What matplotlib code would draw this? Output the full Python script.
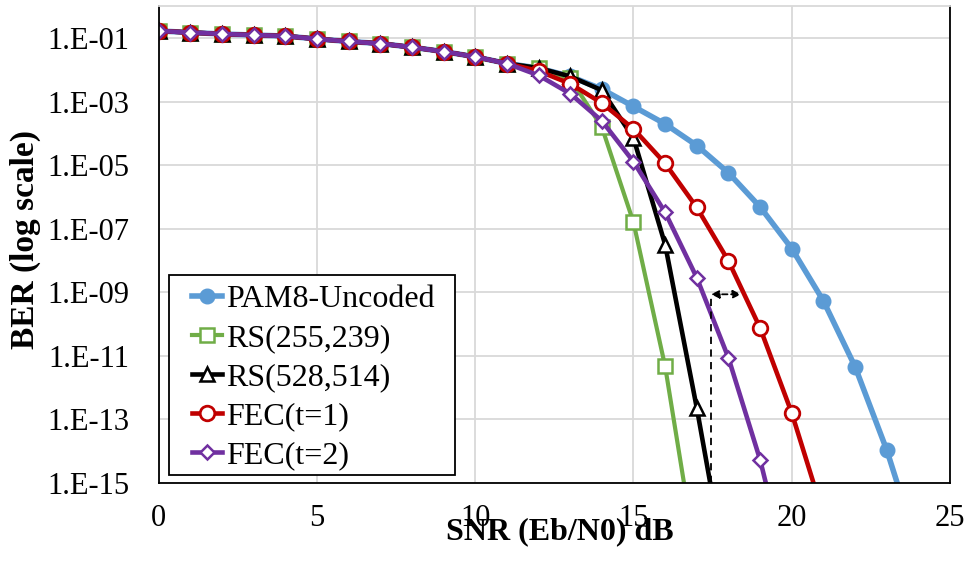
import matplotlib
matplotlib.use("Agg")
import matplotlib.pyplot as plt
from matplotlib.patches import Rectangle
from matplotlib.ticker import FixedLocator, FixedFormatter, NullLocator

plt.rcParams['font.family'] = ['Liberation Serif', 'DejaVu Serif']

# SNR (Eb/N0) in dB
snr_uncoded = list(range(0, 25))
snr_rs255 = list(range(0, 18))
snr_rs528 = list(range(0, 19))
snr_fec1 = list(range(0, 22))
snr_fec2 = list(range(0, 21))

# shared low-SNR region (0..11 dB)
ber_common = [0.170, 0.151, 0.136, 0.126, 0.117, 0.095, 0.079, 0.068,
              0.052, 0.038, 0.026, 0.016]

ber_uncoded = ber_common + [1.15e-2, 6.3e-3, 2.5e-3, 7.1e-4, 2.0e-4, 4.2e-5,
                            5.8e-6, 4.9e-7, 2.4e-8, 5.4e-10, 4.6e-12, 1.1e-14,
                            8e-18]
ber_rs255 = ber_common + [1.15e-2, 5.4e-3, 1.6e-4, 1.6e-7, 4.7e-12, 3.2e-18]
ber_rs528 = ber_common + [1.15e-2, 6.3e-3, 2.3e-3, 7.2e-5, 3.2e-8, 2.3e-13,
                          6.3e-19]
ber_fec1 = ber_common + [9.3e-3, 3.7e-3, 9.1e-4, 1.4e-4, 1.15e-5, 4.7e-7,
                         9.8e-9, 7.6e-11, 1.6e-13, 1e-16]
ber_fec2 = ber_common + [6.8e-3, 1.8e-3, 2.5e-4, 1.3e-5, 3.3e-7, 2.9e-9,
                         8.7e-12, 5.4e-15, 5e-19]

labels = ["PAM8-Uncoded", "RS(255,239)", "RS(528,514)", "FEC(t=1)", "FEC(t=2)"]

y_ticks = [1e-1, 1e-3, 1e-5, 1e-7, 1e-9, 1e-11, 1e-13, 1e-15]
y_tick_labels = ["1.E-01", "1.E-03", "1.E-05", "1.E-07", "1.E-09",
                 "1.E-11", "1.E-13", "1.E-15"]
x_ticks = [0, 5, 10, 15, 20, 25]

fig = plt.figure(figsize=(9.7, 5.66), dpi=100)
ax = fig.add_axes([0.1636, 0.1466, 0.8158, 0.842])

ax.plot(snr_uncoded, ber_uncoded, color='#5B9BD5', lw=4.0, marker='o',
        ms=10.5, mfc='#5B9BD5', mec='#5B9BD5', label=labels[0])
ax.plot(snr_rs255, ber_rs255, color='#70AD47', lw=3.0, marker='s',
        ms=10, mfc='white', mec='#70AD47', mew=1.8, label=labels[1])
ax.plot(snr_rs528, ber_rs528, color='black', lw=3.3, marker='^',
        ms=10, mfc='white', mec='black', mew=1.8, label=labels[2])
ax.plot(snr_fec1, ber_fec1, color='#C00000', lw=3.3, marker='o',
        ms=10.5, mfc='white', mec='#C00000', mew=2.0, label=labels[3])
ax.plot(snr_fec2, ber_fec2, color='#7030A0', lw=3.3, marker='D',
        ms=7, mfc='white', mec='#7030A0', mew=1.8, label=labels[4])

# coding-gain marker
x_mark = 17.45
y_mark = 10 ** -9.06
ax.plot([x_mark, x_mark], [1e-15, 10 ** -9.17], color='black', lw=1.3,
        ls=(0, (4, 3)), zorder=6)
ax.annotate('', xy=(18.4, y_mark), xytext=(x_mark, y_mark),
            arrowprops=dict(arrowstyle='<|-|>', color='black', lw=1.3,
                            ls=(0, (3, 2)), mutation_scale=12,
                            shrinkA=0, shrinkB=0), zorder=6)

ax.set_yscale('log')
ax.set_xlim(0, 25)
ax.set_ylim(1e-15, 1e0)
ax.yaxis.set_major_locator(FixedLocator(y_ticks))
ax.yaxis.set_major_formatter(FixedFormatter(y_tick_labels))
ax.yaxis.set_minor_locator(NullLocator())
ax.set_xticks(x_ticks)
ax.tick_params(axis='both', length=0, labelsize=22, colors='black')
ax.tick_params(axis='x', pad=15)
ax.tick_params(axis='y', pad=21)

ax.grid(True, which='major', color='#D9D9D9', lw=1.3)
ax.set_axisbelow(True)
for side in ['left', 'bottom', 'right']:
    ax.spines[side].set_color('black')
    ax.spines[side].set_linewidth(1.3)
ax.spines['top'].set_color('#D9D9D9')
ax.spines['top'].set_linewidth(1.3)

ax.set_xlabel("SNR (Eb/N0) dB", fontsize=23, fontweight='bold')
ax.set_ylabel("BER (log scale)", fontsize=24, fontweight='bold')
ax.xaxis.set_label_coords(0.507, -0.071)
ax.yaxis.set_label_coords(-0.149, 0.512)

# legend entries without their own frame; a plain box is drawn around them
leg = ax.legend(loc='upper left', bbox_to_anchor=(0.042, 0.416),
                borderaxespad=0, borderpad=0, fontsize=23, handlelength=0.95,
                handletextpad=0.12, labelspacing=0.3, frameon=False)
leg.set_zorder(8)
ax.add_patch(Rectangle((0.013, 0.0168), 0.3614, 0.4197, transform=ax.transAxes,
                       facecolor='white', edgecolor='black', lw=1.3,
                       zorder=7, clip_on=False))

fig.savefig("out.png", dpi=100)
